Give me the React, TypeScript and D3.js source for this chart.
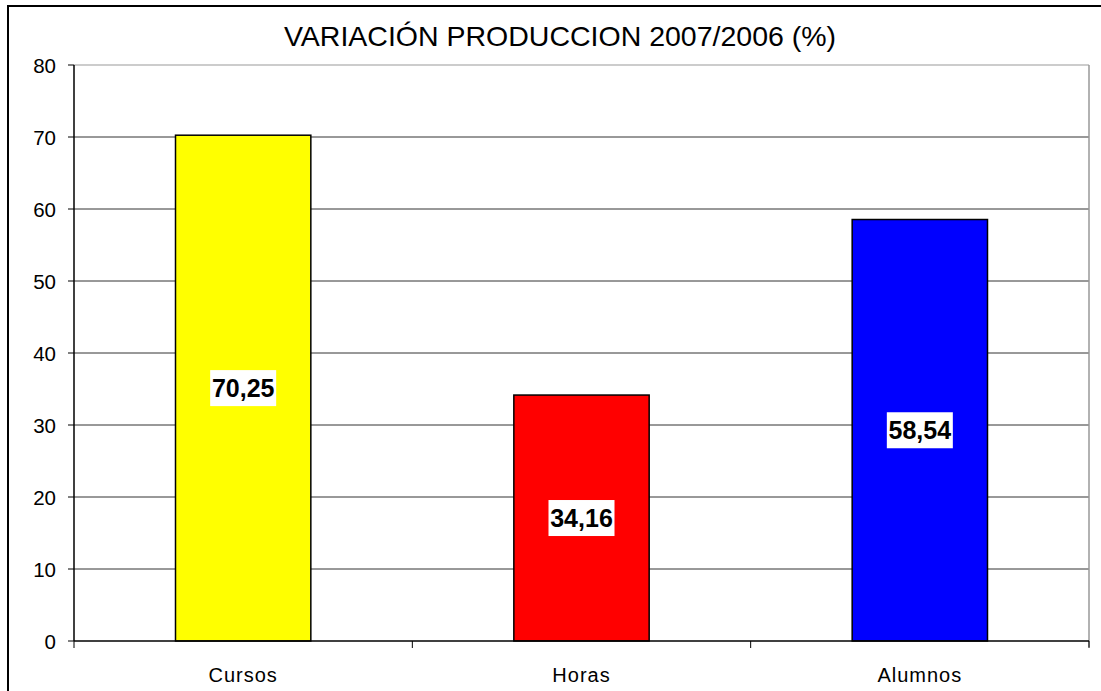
import React from "react";
import * as d3 from "d3";

const categories = ["Cursos", "Horas", "Alumnos"];
const values = [70.25, 34.16, 58.54];
const labels = ["70,25", "34,16", "58,54"];
const colors = ["#FFFF00", "#FF0000", "#0000FF"];
const yTicks = [0, 10, 20, 30, 40, 50, 60, 70, 80];
const title = "VARIACIÓN PRODUCCION 2007/2006 (%)";

export default function App() {
  const W = 1101, H = 691;
  const left = 74, right = 1089, top = 65, bottom = 641;
  const x = d3.scaleBand<string>().domain(categories).range([left, right]).paddingInner(0).paddingOuter(0);
  const y = d3.scaleLinear().domain([0, 80]).range([bottom, top]);
  const bw = x.bandwidth() * 0.4;
  const font = "Arial, 'Liberation Sans', sans-serif";
  return (
    <svg width={W} height={H} style={{ position: "absolute", left: 0, top: 0 }}>
      <rect x={0} y={0} width={W} height={H} fill="#fff" />
      <rect x={8} y={6} width={W + 10} height={H + 10} fill="none" stroke="#000" strokeWidth={2} />
      <text x={560} y={46} textAnchor="middle" fontFamily={font} fontSize={28.5} fill="#000">{title}</text>
      {yTicks.map((t) => (
        <g key={t}>
          {t > 0 && <line x1={left} x2={right} y1={y(t)} y2={y(t)} stroke={t === 80 ? "#999" : "#333"} strokeWidth={1} />}
          <line x1={left - 6} x2={left} y1={y(t)} y2={y(t)} stroke="#000" />
          <text x={left - 18} y={y(t) + 7.5} textAnchor="end" fontFamily={font} fontSize={20.5} fill="#000">{t}</text>
        </g>
      ))}
      <line x1={right} x2={right} y1={top} y2={bottom + 6} stroke="#999" strokeWidth={1.5} />
      {categories.map((c, i) => {
        const cx = (x(c) as number) + x.bandwidth() / 2;
        const y0 = y(values[i]);
        const ym = (y0 + y(0)) / 2;
        return (
          <g key={c}>
            <rect x={cx - bw / 2} y={y0} width={bw} height={y(0) - y0} fill={colors[i]} stroke="#000" strokeWidth={1.5} />
            <rect x={cx - 33} y={ym - 18} width={66} height={36} fill="#fff" />
            <text x={cx} y={ym + 9} textAnchor="middle" fontFamily={font} fontSize={25} fontWeight="bold" fill="#000">{labels[i]}</text>
            <text x={cx} y={682} textAnchor="middle" fontFamily={font} fontSize={20} letterSpacing={1} fill="#000">{c}</text>
          </g>
        );
      })}
      {[0, 1, 2, 3].map((k) => {
        const xx = left + k * x.bandwidth();
        return <line key={k} x1={xx} x2={xx} y1={bottom} y2={bottom + 7} stroke="#000" strokeWidth={1} />;
      })}
      <line x1={left} x2={left} y1={top} y2={bottom} stroke="#000" strokeWidth={1.5} />
      <line x1={left} x2={right} y1={bottom} y2={bottom} stroke="#000" strokeWidth={1.5} />
    </svg>
  );
}
